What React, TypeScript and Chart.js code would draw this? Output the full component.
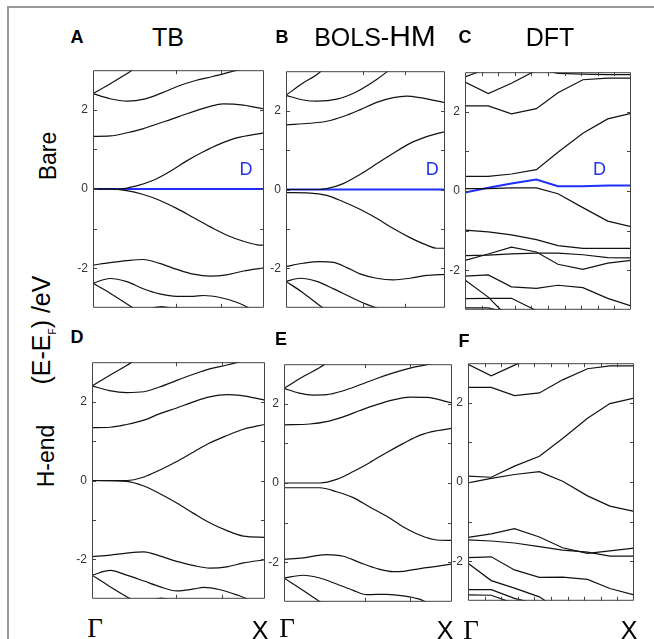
import React, { useEffect, useRef } from "react";
import { Chart, registerables } from "chart.js";

Chart.register(...registerables);

type Pt = [number, number];

// ---------- Panel A : TB, bare ----------
const tbBare1: Pt[] = [[0, 2.41], [0.113, 2.69], [0.226, 2.99], [0.35, 3.4]];
const tbBare2: Pt[] = [[0, 2.41], [0.1, 2.28], [0.2, 2.22], [0.3, 2.27], [0.4, 2.42], [0.5, 2.6], [0.6, 2.74], [0.7, 2.84], [0.8, 2.95], [0.9, 3.06], [1, 3.15]];
const tbBare3: Pt[] = [[0, 1.33], [0.1, 1.34], [0.2, 1.42], [0.29, 1.52], [0.49, 1.81], [0.68, 2.08], [0.76, 2.15], [0.88, 2.12], [1, 2.02]];
const tbBare4: Pt[] = [[0, 0], [0.158, 0], [0.255, 0.08], [0.353, 0.22], [0.45, 0.44], [0.548, 0.71], [0.645, 0.94], [0.743, 1.14], [0.84, 1.29], [1, 1.42]];
const tbBare5: Pt[] = [[0, 0], [0.1, 0], [0.197, -0.04], [0.294, -0.14], [0.392, -0.29], [0.489, -0.49], [0.587, -0.72], [0.684, -0.95], [0.78, -1.16], [0.88, -1.32], [0.96, -1.41], [1, -1.42]];
const tbBare6: Pt[] = [[0, -1.92], [0.1, -1.86], [0.197, -1.81], [0.294, -1.78], [0.39, -1.88], [0.49, -2.03], [0.587, -2.15], [0.684, -2.2], [0.78, -2.17], [0.88, -2.07], [1, -1.99]];
const tbBare7: Pt[] = [[0, -2.38], [0.1, -2.26], [0.197, -2.34], [0.294, -2.52], [0.39, -2.65], [0.49, -2.71], [0.587, -2.71], [0.645, -2.69], [0.743, -2.74], [0.84, -2.86], [0.9, -2.98], [1, -3.3]];
const tbBare8: Pt[] = [[0, -2.38], [0.1, -2.63], [0.226, -2.98], [0.3, -3.2]];
const tbBare9: Pt[] = [[0.3, -3.08], [0.4, -2.97], [0.5, -3.08]];
const tbBareD: Pt[] = [[0, 0], [1, 0]];

// ---------- Panel B : BOLS-HM, bare ----------
const bolsBare1: Pt[] = [[0, 2.39], [0.107, 2.7], [0.214, 2.98], [0.3, 3.4]];
const bolsBare2: Pt[] = [[0, 2.39], [0.109, 2.27], [0.193, 2.24], [0.319, 2.29], [0.444, 2.48], [0.57, 2.79], [0.63, 2.97], [0.75, 3.4]];
const bolsBare3: Pt[] = [[0, 1.64], [0.151, 1.68], [0.256, 1.73], [0.36, 1.85], [0.465, 2.02], [0.57, 2.21], [0.675, 2.33], [0.759, 2.37], [0.843, 2.33], [1, 2.2]];
const bolsBare4: Pt[] = [[0, 0], [0.21, 0], [0.256, 0.02], [0.36, 0.15], [0.465, 0.38], [0.57, 0.65], [0.675, 0.92], [0.78, 1.17], [0.885, 1.34], [1, 1.47]];
const bolsBare5: Pt[] = [[0, -0.08], [0.151, -0.09], [0.256, -0.15], [0.36, -0.31], [0.465, -0.5], [0.57, -0.73], [0.675, -0.99], [0.78, -1.22], [0.885, -1.41], [0.948, -1.49], [1, -1.49]];
const bolsBare6: Pt[] = [[0, -1.95], [0.109, -1.87], [0.214, -1.83], [0.3, -1.85], [0.382, -1.98], [0.465, -2.14], [0.57, -2.25], [0.675, -2.29], [0.78, -2.25], [0.885, -2.18], [1, -2.15]];
const bolsBare7: Pt[] = [[0, -2.33], [0.088, -2.25], [0.193, -2.33], [0.3, -2.52], [0.403, -2.72], [0.5, -2.9], [0.6, -3.05], [0.7, -3.2]];
const bolsBare8: Pt[] = [[0, -2.33], [0.1, -2.6], [0.214, -2.95], [0.3, -3.2]];
const bolsBareD: Pt[] = [[0, 0], [1, 0]];

// ---------- Panel C : DFT, bare ----------
const dftBare1: Pt[] = [[0, 2.75], [0.14, 2.46], [0.28, 2.72], [0.43, 3.05]];
const dftBare2: Pt[] = [[0, 2.88], [0.14, 3.1]];
const dftBare3: Pt[] = [[0, 2.15], [0.14, 2.15], [0.28, 1.95], [0.43, 2.08], [0.56, 2.48], [0.71, 2.81], [0.86, 2.85], [1, 2.85]];
const dftBare4: Pt[] = [[0.43, 3.1], [0.56, 2.97], [0.71, 2.95], [0.86, 2.94], [1, 2.94]];
const dftBare5: Pt[] = [[0, 0.37], [0.14, 0.37], [0.28, 0.43], [0.43, 0.54], [0.56, 0.98], [0.71, 1.46], [0.86, 1.82], [1, 1.96]];
const dftBare6: Pt[] = [[0, 0.06], [0.14, 0.06], [0.28, 0.08], [0.43, 0.08], [0.56, -0.07], [0.71, -0.42], [0.86, -0.76], [1, -0.9]];
const dftBare7: Pt[] = [[0, -0.99], [0.14, -1.03], [0.28, -1.11], [0.43, -1.23], [0.56, -1.38], [0.71, -1.45], [0.86, -1.45], [1, -1.45]];
const dftBare8: Pt[] = [[0, -1.75], [0.14, -1.59], [0.28, -1.42], [0.43, -1.54], [0.56, -1.85], [0.71, -1.98], [0.86, -1.82], [1, -1.75]];
const dftBare9: Pt[] = [[0, -1.63], [0.14, -1.62], [0.28, -1.59], [0.43, -1.57], [0.56, -1.57], [0.71, -1.61], [0.86, -1.68], [1, -1.69]];
const dftBare10: Pt[] = [[0, -2.15], [0.14, -2.12], [0.28, -2.42], [0.43, -2.46], [0.56, -2.38], [0.71, -2.44], [0.86, -2.71], [1, -2.9]];
const dftBare11: Pt[] = [[0, -2.25], [0.14, -2.68], [0.22, -3.02], [0.28, -3.2]];
const dftBare12: Pt[] = [[0, -2.72], [0.14, -2.71], [0.28, -2.71], [0.43, -3.02], [0.5, -3.2]];
const dftBare13: Pt[] = [[0, -2.95], [0.14, -2.95], [0.28, -3.1]];
const dftBareD: Pt[] = [[0, -0.04], [0.14, 0.08], [0.28, 0.19], [0.43, 0.29], [0.56, 0.12], [0.71, 0.12], [0.86, 0.14], [1, 0.14]];

// ---------- Panel D : TB, H-end ----------
const tbH1: Pt[] = [[0, 2.4], [0.115, 2.7], [0.23, 3.0], [0.35, 3.4]];
const tbH2: Pt[] = [[0, 2.4], [0.1, 2.28], [0.2, 2.23], [0.3, 2.25], [0.39, 2.37], [0.49, 2.54], [0.59, 2.7], [0.68, 2.83], [0.78, 2.93], [0.85, 3.01], [1, 3.2]];
const tbH3: Pt[] = [[0, 1.34], [0.106, 1.35], [0.2, 1.42], [0.3, 1.53], [0.39, 1.69], [0.49, 1.84], [0.59, 2.0], [0.68, 2.12], [0.78, 2.18], [0.856, 2.16], [1, 2.04]];
const tbH4: Pt[] = [[0, 0], [0.2, 0], [0.3, 0.09], [0.39, 0.26], [0.49, 0.48], [0.59, 0.73], [0.68, 0.95], [0.78, 1.14], [0.875, 1.3], [1, 1.42]];
const tbH5: Pt[] = [[0, 0], [0.2, -0.02], [0.3, -0.14], [0.39, -0.33], [0.49, -0.57], [0.59, -0.84], [0.68, -1.07], [0.78, -1.27], [0.875, -1.41], [1, -1.44]];
const tbH6: Pt[] = [[0, -1.93], [0.106, -1.89], [0.2, -1.84], [0.3, -1.81], [0.39, -1.91], [0.49, -2.05], [0.59, -2.16], [0.68, -2.22], [0.78, -2.19], [0.875, -2.09], [1, -2.01]];
const tbH7: Pt[] = [[0, -2.4], [0.106, -2.28], [0.2, -2.4], [0.3, -2.55], [0.39, -2.69], [0.49, -2.8], [0.59, -2.75], [0.645, -2.71], [0.74, -2.77], [0.837, -2.9], [0.894, -3.0], [1, -3.3]];
const tbH8: Pt[] = [[0, -2.4], [0.1, -2.68], [0.221, -3.0], [0.3, -3.2]];
const tbH9: Pt[] = [[0.32, -3.08], [0.4, -2.98], [0.48, -3.08]];

// ---------- Panel E : BOLS-HM, H-end ----------
const bolsH1: Pt[] = [[0, 2.39], [0.12, 2.7], [0.243, 3.0], [0.35, 3.4]];
const bolsH2: Pt[] = [[0, 2.39], [0.09, 2.27], [0.173, 2.22], [0.253, 2.23], [0.353, 2.33], [0.452, 2.48], [0.552, 2.64], [0.651, 2.78], [0.751, 2.9], [0.85, 2.99], [1, 3.15]];
const bolsH3: Pt[] = [[0, 1.47], [0.153, 1.49], [0.253, 1.55], [0.353, 1.67], [0.452, 1.83], [0.552, 1.98], [0.651, 2.1], [0.751, 2.17], [0.85, 2.16], [1, 2.02]];
const bolsH4: Pt[] = [[0, 0], [0.213, 0], [0.313, 0.09], [0.412, 0.29], [0.512, 0.52], [0.612, 0.77], [0.711, 1.0], [0.811, 1.21], [0.91, 1.32], [1, 1.38]];
const bolsH5: Pt[] = [[0, -0.12], [0.213, -0.12], [0.313, -0.22], [0.412, -0.37], [0.512, -0.61], [0.612, -0.84], [0.711, -1.11], [0.811, -1.32], [0.91, -1.44], [1, -1.45]];
const bolsH6: Pt[] = [[0, -1.93], [0.114, -1.89], [0.253, -1.81], [0.353, -1.85], [0.452, -2.01], [0.552, -2.16], [0.651, -2.24], [0.711, -2.23], [0.811, -2.16], [1, -2.05]];
const bolsH7: Pt[] = [[0, -2.4], [0.114, -2.33], [0.213, -2.4], [0.313, -2.55], [0.412, -2.71], [0.492, -2.82], [0.612, -2.81], [0.711, -2.85], [0.811, -2.94], [0.85, -3.02], [1, -3.3]];
const bolsH8: Pt[] = [[0, -2.4], [0.11, -2.7], [0.223, -3.02], [0.3, -3.2]];

// ---------- Panel F : DFT, H-end ----------
const dftH1: Pt[] = [[0, 2.97], [0.14, 2.68], [0.3, 2.99], [0.43, 3.3]];
const dftH2: Pt[] = [[0, 2.39], [0.14, 2.39], [0.28, 2.18], [0.43, 2.25], [0.57, 2.58], [0.72, 2.86], [0.855, 2.93], [1, 2.93]];
const dftH3: Pt[] = [[0, 0.15], [0.14, 0.12], [0.28, 0.4], [0.43, 0.65], [0.57, 1.1], [0.72, 1.61], [0.855, 1.98], [1, 2.12]];
const dftH4: Pt[] = [[0, -0.02], [0.14, 0.09], [0.28, 0.19], [0.43, 0.26], [0.57, 0.02], [0.72, -0.35], [0.855, -0.61], [1, -0.74]];
const dftH5: Pt[] = [[0, -1.4], [0.14, -1.31], [0.28, -1.18], [0.43, -1.39], [0.57, -1.66], [0.72, -1.8], [0.855, -1.74], [1, -1.67]];
const dftH6: Pt[] = [[0, -1.46], [0.14, -1.49], [0.28, -1.54], [0.43, -1.63], [0.57, -1.72], [0.72, -1.77], [0.855, -1.87], [1, -1.87]];
const dftH7: Pt[] = [[0, -1.91], [0.14, -1.89], [0.28, -2.22], [0.43, -2.41], [0.57, -2.4], [0.72, -2.46], [0.855, -2.69], [1, -2.85]];
const dftH8: Pt[] = [[0, -2.05], [0.14, -2.49], [0.28, -2.68], [0.43, -2.9], [0.48, -3.04], [0.55, -3.2]];
const dftH9: Pt[] = [[0, -2.72], [0.14, -2.72], [0.28, -2.94], [0.38, -3.04], [0.45, -3.2]];
const dftH10: Pt[] = [[0, -2.85], [0.14, -2.86], [0.26, -3.04], [0.3, -3.2]];

// ---------- axis ticks ----------
const yTickValues = [-2, -1, 0, 1, 2];
const yLabelValues = [-2, 0, 2];
const smoothXTicks = [0.485, 0.75];
const dftXTicks = [0.1, 0.2, 0.3, 0.4, 0.5, 0.6, 0.7, 0.8, 0.9];
const kStart = "Γ";
const kEnd = "X";

const AXW = 30;
const SANS = 'Arial, "Liberation Sans", Helvetica, sans-serif';
const SERIF = '"Times New Roman", "Liberation Serif", serif';

type Box = { l: number; t: number; r: number; b: number };
type PanelProps = {
  box: Box;
  bands: Pt[][];
  blue?: Pt[];
  smooth: boolean;
  xTicks: number[];
  dLabel?: Pt;
};

const framePlugin = {
  id: "bandFrame",
  afterDraw(chart: any) {
    const { ctx, chartArea: a, scales } = chart;
    const opts = chart.options.plugins.bandFrame || {};
    ctx.save();
    ctx.strokeStyle = "#444";
    ctx.lineWidth = 1;
    ctx.beginPath();
    ctx.rect(a.left + 0.5, a.top + 0.5, a.right - a.left - 1, a.bottom - a.top - 1);
    ctx.stroke();
    const tl = 4;
    ctx.beginPath();
    for (const v of yTickValues) {
      const y = Math.round(scales.y.getPixelForValue(v)) + 0.5;
      ctx.moveTo(a.left, y);
      ctx.lineTo(a.left + tl, y);
      ctx.moveTo(a.right, y);
      ctx.lineTo(a.right - tl, y);
    }
    for (const v of opts.xTicks || []) {
      const x = Math.round(scales.x.getPixelForValue(v)) + 0.5;
      ctx.moveTo(x, a.top);
      ctx.lineTo(x, a.top + tl);
      ctx.moveTo(x, a.bottom);
      ctx.lineTo(x, a.bottom - tl);
    }
    ctx.stroke();
    if (opts.dLabel) {
      ctx.fillStyle = "#2233ee";
      ctx.font = `18px ${SANS}`;
      ctx.textAlign = "center";
      ctx.textBaseline = "middle";
      ctx.fillText("D", scales.x.getPixelForValue(opts.dLabel[0]), scales.y.getPixelForValue(opts.dLabel[1]));
    }
    ctx.restore();
  },
};

function Panel({ box, bands, blue, smooth, xTicks, dLabel }: PanelProps) {
  const ref = useRef<HTMLCanvasElement>(null);
  const w = AXW + (box.r - box.l) + 2;
  const h = box.b - box.t + 4;
  useEffect(() => {
    if (!ref.current) return;
    const datasets: any[] = bands.map((b) => ({
      data: b.map(([x, y]) => ({ x, y })),
      borderColor: "#111",
      borderWidth: 1.2,
      pointRadius: 0,
      fill: false,
      tension: smooth ? 0.4 : 0,
      cubicInterpolationMode: smooth ? "monotone" : "default",
      order: 1,
    }));
    if (blue) {
      datasets.push({
        data: blue.map(([x, y]) => ({ x, y })),
        borderColor: "#1f2fff",
        borderWidth: 2,
        pointRadius: 0,
        fill: false,
        tension: 0,
        order: 2,
      });
    }
    const chart = new Chart(ref.current, {
      type: "line",
      data: { datasets },
      options: {
        animation: false,
        responsive: false,
        maintainAspectRatio: false,
        events: [],
        layout: { padding: { top: 2, bottom: 2, right: 2, left: 0 } },
        plugins: {
          legend: { display: false },
          tooltip: { enabled: false },
          bandFrame: { xTicks, dLabel },
        } as any,
        scales: {
          x: { type: "linear", min: 0, max: 1, display: false },
          y: {
            type: "linear",
            min: -3,
            max: 3,
            ticks: {
              stepSize: 1,
              autoSkip: false,
              padding: 5,
              color: "#333",
              font: { family: SANS, size: 12 },
              callback: (v: any) => (yLabelValues.includes(Number(v)) ? String(v) : ""),
            },
            grid: { display: false, drawTicks: false, tickLength: 0 },
            border: { display: false },
            afterFit: (s: any) => {
              s.width = AXW;
            },
          },
        },
      } as any,
      plugins: [framePlugin],
    });
    return () => chart.destroy();
  }, []);
  return (
    <canvas
      ref={ref}
      width={w}
      height={h}
      style={{ position: "absolute", left: box.l - AXW, top: box.t - 2, width: w, height: h }}
    />
  );
}

function Txt({ x, y, children, style }: { x: number; y: number; children: any; style?: any }) {
  return (
    <div
      style={{
        position: "absolute",
        left: x,
        top: y,
        transform: "translate(-50%, -50%)",
        whiteSpace: "nowrap",
        lineHeight: 1,
        fontFamily: SANS,
        color: "#000",
        ...style,
      }}
    >
      {children}
    </div>
  );
}

function VTxt({ x, y, children, size }: { x: number; y: number; children: any; size: number }) {
  return (
    <div
      style={{
        position: "absolute",
        left: x,
        top: y,
        transform: "translate(-50%, -50%) rotate(-90deg)",
        whiteSpace: "nowrap",
        lineHeight: 1,
        fontFamily: SANS,
        fontSize: size,
        color: "#000",
      }}
    >
      {children}
    </div>
  );
}

export default function App() {
  const bold = { fontWeight: "bold", fontSize: 18 };
  const title = { fontSize: 25 };
  const gam = { fontFamily: SERIF, fontSize: 27 };
  const ex = { fontSize: 25 };
  return (
    <div style={{ position: "fixed", left: 0, top: 0, width: 654, height: 639, background: "#fff", overflow: "hidden" }}>
      <div style={{ position: "absolute", left: 7, top: 6, width: 660, height: 650, borderTop: "2px solid #999", borderLeft: "2px solid #999" }} />

      <Panel box={{ l: 93, t: 60, r: 264, b: 318 }} bands={[tbBare1, tbBare2, tbBare3, tbBare4, tbBare5, tbBare6, tbBare7, tbBare8, tbBare9]} blue={tbBareD} smooth xTicks={smoothXTicks} dLabel={[0.895, 0.49]} />
      <Panel box={{ l: 286, t: 61, r: 445, b: 318 }} bands={[bolsBare1, bolsBare2, bolsBare3, bolsBare4, bolsBare5, bolsBare6, bolsBare7, bolsBare8]} blue={bolsBareD} smooth xTicks={smoothXTicks} dLabel={[0.92, 0.5]} />
      <Panel box={{ l: 465, t: 62, r: 631, b: 320 }} bands={[dftBare1, dftBare2, dftBare3, dftBare4, dftBare5, dftBare6, dftBare7, dftBare8, dftBare9, dftBare10, dftBare11, dftBare12, dftBare13]} blue={dftBareD} smooth={false} xTicks={dftXTicks} dLabel={[0.81, 0.52]} />
      <Panel box={{ l: 92, t: 352, r: 265, b: 609 }} bands={[tbH1, tbH2, tbH3, tbH4, tbH5, tbH6, tbH7, tbH8, tbH9]} smooth xTicks={smoothXTicks} />
      <Panel box={{ l: 284, t: 354, r: 452, b: 612 }} bands={[bolsH1, bolsH2, bolsH3, bolsH4, bolsH5, bolsH6, bolsH7, bolsH8]} smooth xTicks={smoothXTicks} />
      <Panel box={{ l: 468, t: 353, r: 634, b: 611 }} bands={[dftH1, dftH2, dftH3, dftH4, dftH5, dftH6, dftH7, dftH8, dftH9, dftH10]} smooth={false} xTicks={dftXTicks} />

      <Txt x={77} y={37} style={bold}>A</Txt>
      <Txt x={168} y={37} style={title}>TB</Txt>
      <Txt x={282} y={37} style={bold}>B</Txt>
      <Txt x={375} y={36} style={{}}>
        <span style={{ fontSize: 25 }}>BOLS-</span>
        <span style={{ fontSize: 30 }}>HM</span>
      </Txt>
      <Txt x={465} y={37} style={bold}>C</Txt>
      <Txt x={550} y={37} style={title}>DFT</Txt>

      <Txt x={77} y={337} style={bold}>D</Txt>
      <Txt x={281} y={339} style={bold}>E</Txt>
      <Txt x={464} y={341} style={bold}>F</Txt>

      <Txt x={95} y={628} style={gam}>{kStart}</Txt>
      <Txt x={260} y={630} style={ex}>{kEnd}</Txt>
      <Txt x={287} y={628} style={gam}>{kStart}</Txt>
      <Txt x={445} y={630} style={ex}>{kEnd}</Txt>
      <Txt x={471} y={630} style={gam}>{kStart}</Txt>
      <Txt x={629} y={630} style={ex}>{kEnd}</Txt>

      <VTxt x={48} y={156} size={23}>Bare</VTxt>
      <VTxt x={43} y={330} size={25}>
        (E-E<sub style={{ fontSize: 10 }}>F</sub>) /eV
      </VTxt>
      <VTxt x={46} y={456} size={23}>H-end</VTxt>
    </div>
  );
}
